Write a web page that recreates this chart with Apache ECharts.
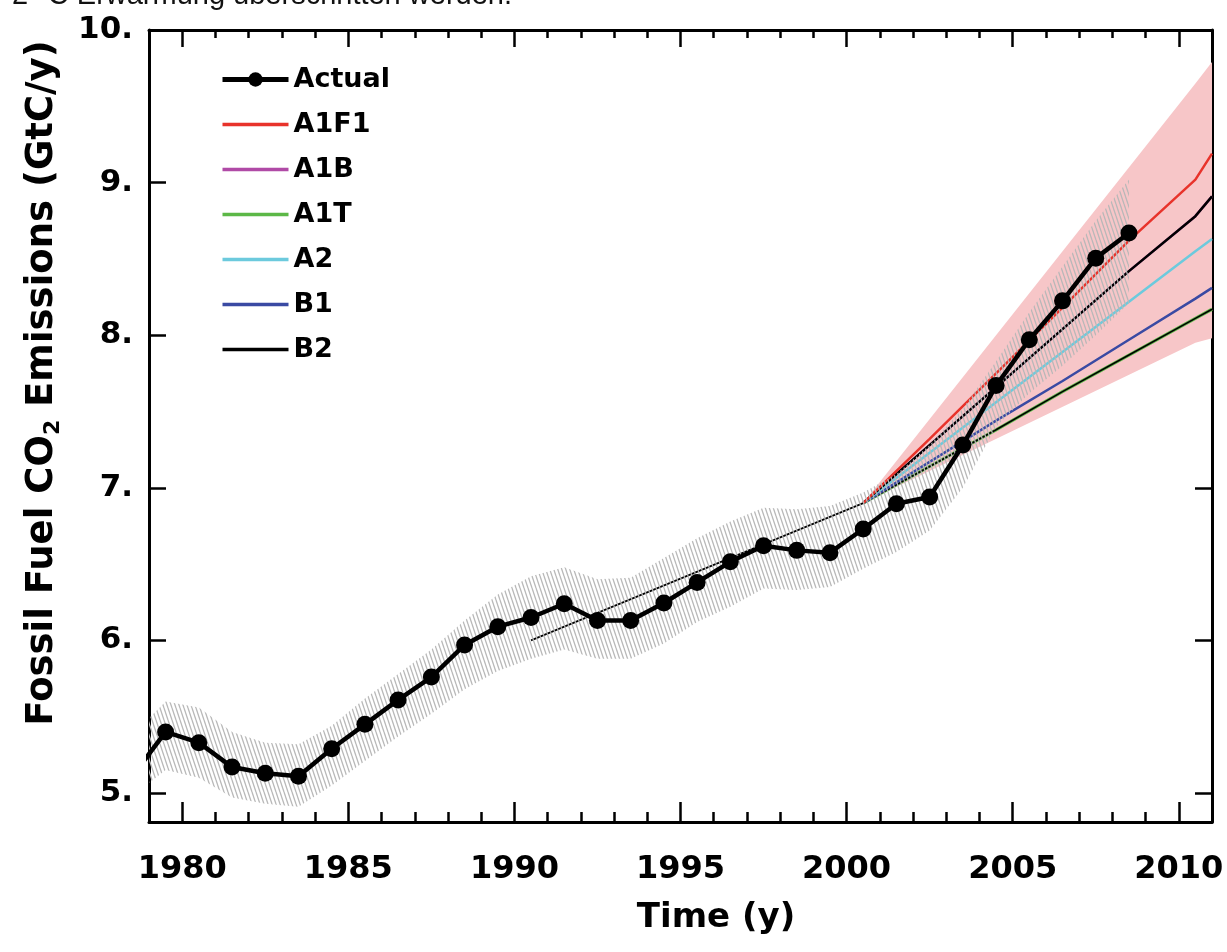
<!DOCTYPE html>
<html>
<head>
<meta charset="utf-8">
<script src="https://cdn.jsdelivr.net/npm/echarts@6/dist/echarts.min.js"></script>
<style>
html,body{margin:0;padding:0;background:#fff;}
#chart{width:1227px;height:952px;}
</style>
</head>
<body>
<div id="chart"></div>
<script>
// ---------------- data ----------------
const actualYears = [1978.5,1979.5,1980.5,1981.5,1982.5,1983.5,1984.5,1985.5,1986.5,1987.5,1988.5,1989.5,1990.5,1991.5,1992.5,1993.5,1994.5,1995.5,1996.5,1997.5,1998.5,1999.5,2000.5,2001.5,2002.5,2003.5,2004.5,2005.5,2006.5,2007.5,2008.5];
const actualValues = [5.11,5.40,5.33,5.17,5.13,5.11,5.29,5.45,5.61,5.76,5.97,6.09,6.15,6.24,6.13,6.13,6.245,6.38,6.515,6.62,6.59,6.575,6.73,6.895,6.94,7.28,7.67,7.97,8.225,8.505,8.67];

const bandLower = [4.98,5.15,5.10,4.97,4.93,4.91,5.05,5.21,5.37,5.52,5.68,5.80,5.88,5.94,5.88,5.88,5.98,6.12,6.22,6.34,6.33,6.35,6.47,6.58,6.72,7.00,7.40,7.62,7.80,8.00,8.21];
const bandUpper = [5.38,5.60,5.56,5.40,5.33,5.32,5.44,5.62,5.78,5.94,6.13,6.30,6.42,6.48,6.40,6.41,6.54,6.67,6.78,6.87,6.86,6.88,6.97,7.09,7.28,7.52,7.83,8.15,8.45,8.75,9.02];

const envelopeYears = [2000.5, 2010.5, 2011];
const envelopeLower = [6.9, 7.95, 7.98];
const envelopeUpper = [6.9, 9.65, 9.79];

const trendYears = [1990.5, 2000.5];
const trendValues = [6.0, 6.9];

const scenarioYears = [2000.5, 2002.5, 2004.5, 2006.5, 2008.5, 2010.5, 2011];
const A1F1 = [6.9, 7.32, 7.75, 8.18, 8.62, 9.02, 9.19];
const A1B  = [6.9, 7.28, 7.66, 8.04, 8.42, 8.78, 8.91];
const A1T  = [6.9, 7.14, 7.38, 7.63, 7.87, 8.11, 8.17];
const A2   = [6.9, 7.23, 7.56, 7.89, 8.22, 8.55, 8.63];
const B1   = [6.9, 7.17, 7.44, 7.70, 7.97, 8.24, 8.31];
const B2   = [6.9, 7.28, 7.66, 8.04, 8.42, 8.78, 8.91];

const xMajorTicks = [1980, 1985, 1990, 1995, 2000, 2005, 2010];
const xMinorTicks = [1979,1980,1981,1982,1983,1984,1985,1986,1987,1988,1989,1990,1991,1992,1993,1994,1995,1996,1997,1998,1999,2000,2001,2002,2003,2004,2005,2006,2007,2008,2009,2010,2011];
const yTicks = [5, 6, 7, 8, 9, 10];

const legendNames = ['Actual','A1F1','A1B','A1T','A2','B1','B2'];

// ---------------- helpers ----------------
function pairs(xs, ys){ return xs.map((x,i)=>[x, ys[i]]); }

function makeHatch(){
  const c = document.createElement('canvas');
  c.width = 4; c.height = 12;
  const g = c.getContext('2d');
  g.strokeStyle = '#b8b8b8';
  g.lineWidth = 1.3;
  for (const dx of [-4, 0, 4]) {
    g.beginPath(); g.moveTo(dx, 0); g.lineTo(dx + 4, 12); g.stroke();
  }
  return c;
}
const hatch = {image: makeHatch(), repeat: 'repeat'};

function bandSeries(xs, lo, hi, fill, z){
  return {
    type: 'custom', coordinateSystem: 'cartesian2d', xAxisIndex: 0, yAxisIndex: 0,
    clip: true, silent: true, z: z,
    data: [[2000, 7]],
    renderItem: function(params, api){
      const pts = [];
      for (let i = 0; i < xs.length; i++) pts.push(api.coord([xs[i], hi[i]]));
      for (let i = xs.length - 1; i >= 0; i--) pts.push(api.coord([xs[i], lo[i]]));
      return {type: 'polygon', shape: {points: pts}, style: {fill: fill}};
    }
  };
}

function lineSeries(name, data, color, width, z){
  return {
    type: 'line', name: name, data: data, symbol: 'none', z: z,
    xAxisIndex: 0, yAxisIndex: 0, silent: true, animation: false,
    lineStyle: {color: color, width: width}, itemStyle: {color: color}
  };
}

const FONT = '"DejaVu Sans", sans-serif';
const axisCol = '#000';

function xAxisDef(pos, ticks, len, showLine, showLabel){
  return {
    type: 'value', position: pos, min: 1979, max: 2011,
    gridIndex: 0,
    axisLine: {show: showLine, onZero: false, lineStyle: {color: axisCol, width: 3}},
    axisTick: {show: true, inside: true, length: len, customValues: ticks, lineStyle: {color: axisCol, width: 2.5}},
    axisLabel: {show: showLabel, customValues: xMajorTicks, margin: 32, color: '#000',
      fontFamily: FONT, fontWeight: 'bold', fontSize: 32, formatter: v => String(v)},
    splitLine: {show: false}
  };
}
function yAxisDef(pos, showLabel){
  return {
    type: 'value', position: pos, min: 4.81, max: 10,
    axisLine: {show: true, onZero: false, lineStyle: {color: axisCol, width: 3}},
    axisTick: {show: true, inside: true, length: 17, customValues: yTicks, lineStyle: {color: axisCol, width: 2.5}},
    axisLabel: {show: showLabel, customValues: yTicks, margin: 16, color: '#000',
      fontFamily: FONT, fontWeight: 'bold', fontSize: 31, formatter: v => Math.round(v) + '.'},
    splitLine: {show: false}
  };
}

const legendData = legendNames.map(n => n === 'Actual'
  ? {name: n, lineStyle: {width: 5}}
  : {name: n, lineStyle: {width: 3.5}, itemStyle: {opacity: 0}});

const chart = echarts.init(document.getElementById('chart'), null, {renderer: 'canvas'});

const option = {
  animation: false,
  backgroundColor: '#fff',
  grid: {left: 149, right: 15, top: 30, bottom: 130, containLabel: false},
  xAxis: [
    xAxisDef('bottom', xMajorTicks, 20, true, true),
    xAxisDef('bottom', xMinorTicks, 10, false, false),
    xAxisDef('top', xMajorTicks, 17, true, false),
    xAxisDef('top', xMinorTicks, 8, false, false)
  ],
  yAxis: [ yAxisDef('left', true), yAxisDef('right', false) ],
  legend: {
    data: legendData, orient: 'vertical', left: 215, top: 61,
    itemWidth: 66, itemHeight: 18, itemGap: 18, selectedMode: false,
    textStyle: {fontFamily: FONT, fontWeight: 'bold', fontSize: 27, color: '#000', padding: [0,0,0,0]}
  },
  graphic: [
    {type: 'text', left: 12, top: -19, silent: true,
      style: {text: '2 °C Erwärmung überschritten werden.', font: '29px "Liberation Sans", Arial, sans-serif', fill: '#111'}},
    {type: 'text', x: 42, y: 383, rotation: Math.PI / 2, silent: true,
      style: {
        text: 'Fossil Fuel CO{sub|2} Emissions (GtC/y)',
        align: 'center', verticalAlign: 'middle',
        font: 'bold 37px "DejaVu Sans", sans-serif', fill: '#000',
        lineHeight: 44,
        rich: {sub: {font: 'bold 22px "DejaVu Sans", sans-serif', fill: '#000', verticalAlign: 'bottom', lineHeight: 24}}
      }},
    {type: 'text', x: 716, y: 918, silent: true,
      style: {text: 'Time (y)', align: 'center', verticalAlign: 'middle',
        font: 'bold 34px "DejaVu Sans", sans-serif', fill: '#000'}}
  ],
  series: [
    bandSeries(envelopeYears, envelopeLower, envelopeUpper, '#f7c6c8', 1),
    lineSeries('trend', pairs(trendYears, trendValues), '#000', 1.8, 2),
    lineSeries('A1B', pairs(scenarioYears, A1B), '#b04aa6', 2.5, 2),
    lineSeries('A1T', pairs(scenarioYears, A1T), '#5cb847', 3.2, 2),
    lineSeries('', pairs(scenarioYears, A1T), '#000', 1.6, 2),
    lineSeries('B1', pairs(scenarioYears, B1), '#3a4aa3', 2.5, 2),
    lineSeries('A2', pairs(scenarioYears, A2), '#6ccadd', 2.5, 2),
    lineSeries('B2', pairs(scenarioYears, B2), '#000', 2.5, 2),
    lineSeries('A1F1', pairs(scenarioYears, A1F1), '#e8332b', 2.5, 2),
    bandSeries(actualYears, bandLower, bandUpper, hatch, 3),
    {
      type: 'line', name: 'Actual', data: pairs(actualYears, actualValues), z: 4,
      xAxisIndex: 0, yAxisIndex: 0, clip: true, silent: true,
      symbol: 'circle', symbolSize: 17, showAllSymbol: true,
      lineStyle: {color: '#000', width: 4.5}, itemStyle: {color: '#000'}
    }
  ]
};
chart.setOption(option);
</script>
</body>
</html>
